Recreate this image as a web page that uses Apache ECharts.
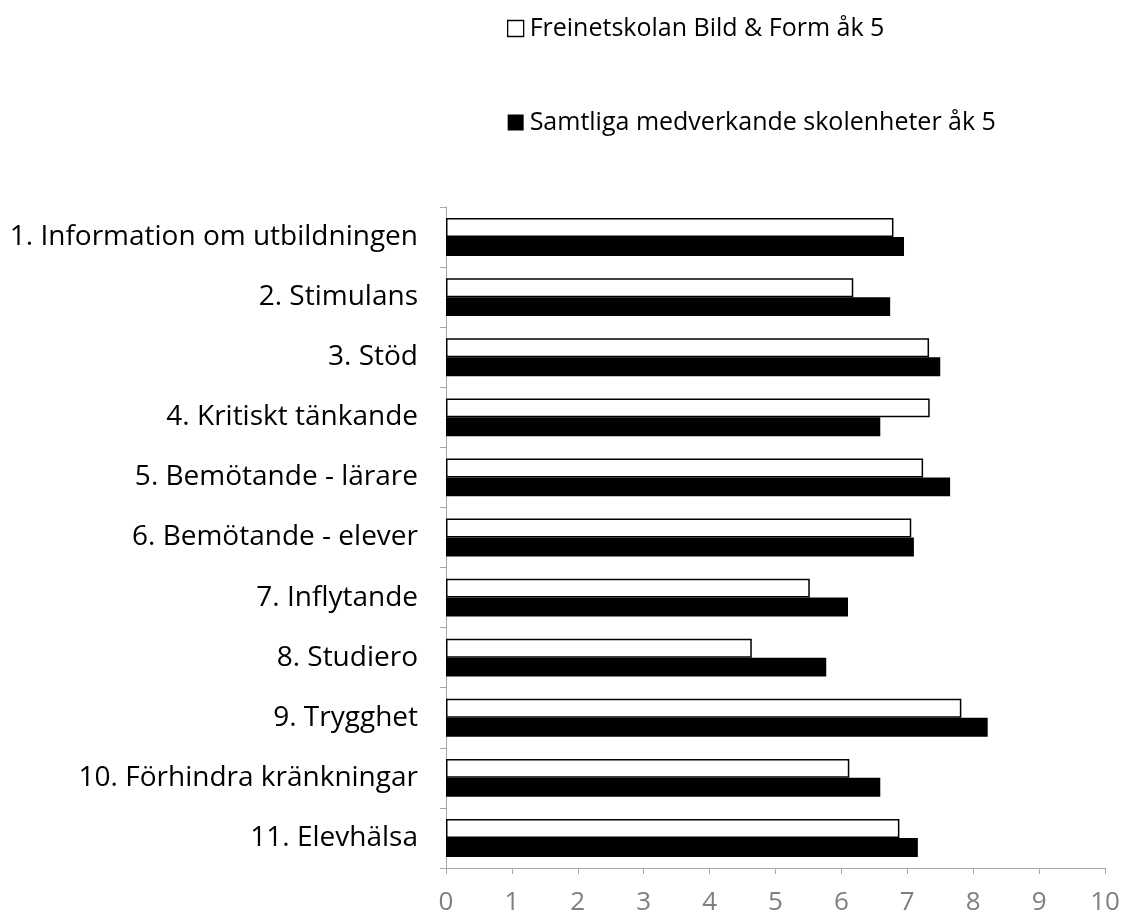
<!DOCTYPE html>
<html><head><meta charset="utf-8">
<script src="https://cdn.jsdelivr.net/npm/echarts@6/dist/echarts.min.js"></script>
<style>html,body{margin:0;padding:0;background:#fff}#c{width:1123px;height:915px}</style>
</head><body><div id="c"></div>
<script>
var categories = ["1. Information om utbildningen","2. Stimulans","3. Stöd","4. Kritiskt tänkande","5. Bemötande - lärare","6. Bemötande - elever","7. Inflytande","8. Studiero","9. Trygghet","10. Förhindra kränkningar","11. Elevhälsa"];
var seriesNames = ["Freinetskolan Bild & Form åk 5","Samtliga medverkande skolenheter åk 5"];
var schoolValues = [6.79,6.18,7.33,7.34,7.24,7.06,5.52,4.64,7.82,6.12,6.88];
var allValues = [6.95,6.74,7.50,6.59,7.65,7.10,6.10,5.77,8.22,6.59,7.16];
var xTicks = {min:0,max:10,interval:1};
var font = "'Open Sans', sans-serif";
var chart = echarts.init(document.getElementById('c'));
chart.setOption({
  animation:false,
  backgroundColor:'#fff',
  legend:{
    orient:'vertical', left:502, top:11, itemGap:69, itemWidth:16, itemHeight:16,
    textStyle:{fontFamily:font,fontSize:25,color:'#000',padding:[0,0,0,1]},
    data:[{name:seriesNames[0],icon:'rect',itemStyle:{color:'#fff',borderColor:'#000',borderWidth:1.3}},
          {name:seriesNames[1],icon:'rect'}]
  },
  grid:{left:446,right:18,top:207,bottom:47,containLabel:false,outerBoundsMode:'none'},
  xAxis:{type:'value',min:xTicks.min,max:xTicks.max,interval:xTicks.interval,
    axisLine:{show:true,lineStyle:{color:'#a6a6a6',width:1}},
    axisTick:{show:true,length:6,lineStyle:{color:'#a6a6a6'}},
    splitLine:{show:false},
    axisLabel:{fontFamily:font,fontSize:26,color:'#7f7f7f',margin:22}},
  yAxis:{type:'category',data:categories,inverse:true,
    axisLine:{show:true,lineStyle:{color:'#a6a6a6'}},
    axisTick:{show:true,length:6,lineStyle:{color:'#a6a6a6'}},
    axisLabel:{fontFamily:font,fontSize:28,color:'#000',margin:28}},
  series:[
    {name:seriesNames[0],type:'bar',data:schoolValues,barGap:'0%',barCategoryGap:'37%',
     itemStyle:{color:'#fff',borderColor:'#000',borderWidth:1.5}},
    {name:seriesNames[1],type:'bar',data:allValues,barGap:'0%',barCategoryGap:'37%',
     itemStyle:{color:'#000'}}
  ]
});
</script></body></html>
